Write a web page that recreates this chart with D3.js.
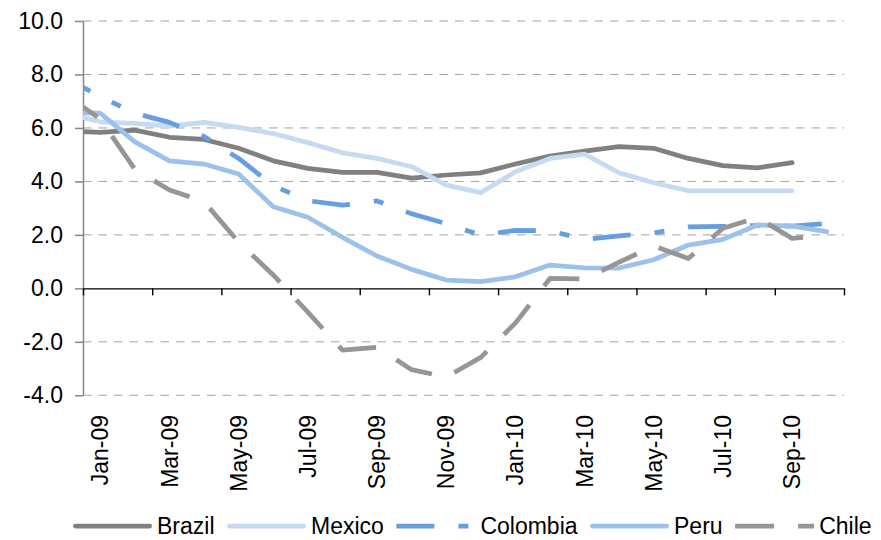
<!DOCTYPE html>
<html>
<head>
<meta charset="utf-8">
<script src="https://cdn.jsdelivr.net/npm/d3@7"></script>
<style>
  html, body { margin: 0; padding: 0; background: #fff; }
  svg { display: block; font-family: "Liberation Sans", Arial, Helvetica, sans-serif; }
</style>
</head>
<body>
<svg id="chart" width="881" height="540"></svg>
<script>
// Monthly readings, Dec-08 through Oct-10 (the Dec-08 reading only feeds the
// segment that enters the window at its left edge).
const months = ["Dec-08", "Jan-09", "Feb-09", "Mar-09", "Apr-09", "May-09", "Jun-09",
  "Jul-09", "Aug-09", "Sep-09", "Oct-09", "Nov-09", "Dec-09", "Jan-10", "Feb-10",
  "Mar-10", "Apr-10", "May-10", "Jun-10", "Jul-10", "Aug-10", "Sep-10", "Oct-10"];

const brazil   = [5.89, 5.83, 5.92, 5.65, 5.57, 5.24, 4.77, 4.49, 4.34, 4.34, 4.12, 4.24,
  4.32, 4.65, 4.95, 5.13, 5.30, 5.24, 4.86, 4.59, 4.51, 4.70, null];
const mexico   = [6.55, 6.23, 6.17, 6.07, 6.21, 6.02, 5.79, 5.45, 5.07, 4.86, 4.55, 3.86,
  3.58, 4.36, 4.86, 5.02, 4.32, 3.95, 3.65, 3.65, 3.65, 3.65, null];
const colombia = [7.87, 7.17, 6.55, 6.21, 5.68, 4.86, 3.84, 3.28, 3.11, 3.27, 2.79, 2.42,
  1.99, 2.17, 2.15, 1.83, 1.96, 2.07, 2.30, 2.32, 2.35, 2.33, 2.43];
const peru     = [6.57, 6.55, 5.48, 4.77, 4.65, 4.28, 3.05, 2.66, 1.91, 1.21, 0.71, 0.31,
  0.25, 0.43, 0.87, 0.77, 0.76, 1.07, 1.62, 1.83, 2.37, 2.33, 2.12];
const chile    = [7.25, 6.33, 4.45, 3.68, 3.24, 1.73, 0.50, -0.89, -2.31, -2.20, -3.04, -3.32,
  -2.58, -1.30, 0.37, 0.35, 0.98, 1.58, 1.12, 2.25, 2.65, 1.87, 2.00];

const yTicks = [-4, -2, 0, 2, 4, 6, 8, 10];
const monthLabels = ["Jan-09", "Mar-09", "May-09", "Jul-09", "Sep-09", "Nov-09",
  "Jan-10", "Mar-10", "May-10", "Jul-10", "Sep-10"];

const seriesNames = ["Brazil", "Mexico", "Colombia", "Peru", "Chile"];
const seriesValues = [brazil, mexico, colombia, peru, chile];
const seriesColors = ["#808080", "#c6daf2", "#659fdf", "#9cc2eb", "#969696"];
// null = solid; otherwise [dash pattern, phase offset]
const seriesDash = [null, null, ["38,24,10,24", 10], null, ["39,24", 0]];

const svg = d3.select("#chart");
const plot = { left: 83, right: 844, top: 21, bottom: 395.3 };
const lineWidth = 4.75;

// Each month occupies one slot; the visible window runs from the start of Jan-09
// to the end of Oct-10.
const x = d3.scaleLinear()
  .domain([0.5, months.length - 0.5])
  .range([plot.left, plot.right]);
const y = d3.scaleLinear()
  .domain([-4, 10])
  .range([plot.bottom, plot.top]);

// Dashed horizontal gridlines
svg.append("g")
  .selectAll("line")
  .data(yTicks.filter(v => v !== 0))
  .join("line")
  .attr("x1", plot.left)
  .attr("x2", plot.right)
  .attr("y1", d => y(d))
  .attr("y2", d => y(d))
  .attr("stroke", "#a3a3a3")
  .attr("stroke-width", 1)
  .attr("stroke-dasharray", "8.5,7");

// Vertical axis
const yAxis = svg.append("g")
  .attr("transform", `translate(${plot.left},0)`)
  .call(d3.axisLeft(y)
    .tickValues(yTicks)
    .tickFormat(d => d.toFixed(1))
    .tickSize(8)
    .tickSizeOuter(0)
    .tickPadding(12))
  .attr("font-family", null)
  .attr("font-size", null);
yAxis.select(".domain").attr("stroke", "#868686").attr("stroke-width", 1.5);
yAxis.selectAll(".tick line").attr("stroke", "#868686").attr("stroke-width", 1.5);
yAxis.selectAll(".tick text").attr("fill", "#000").style("font-size", "23px");

// Series lines, clipped at the left edge of the plot
svg.append("defs").append("clipPath").attr("id", "plotClip")
  .append("rect")
  .attr("x", plot.left)
  .attr("y", 0)
  .attr("width", 881 - plot.left)
  .attr("height", 540);

const line = d3.line()
  .defined(d => d.v !== null)
  .x(d => x(d.i))
  .y(d => y(d.v));

const linesG = svg.append("g").attr("clip-path", "url(#plotClip)");
seriesNames.forEach((name, k) => {
  const pts = seriesValues[k].map((v, i) => ({ i, v }));
  const dash = seriesDash[k];
  linesG.append("path")
    .datum(pts)
    .attr("d", line)
    .attr("fill", "none")
    .attr("stroke", seriesColors[k])
    .attr("stroke-width", lineWidth)
    .attr("stroke-linejoin", "round")
    .attr("stroke-linecap", dash ? "butt" : "round")
    .attr("stroke-dasharray", dash ? dash[0] : null)
    .attr("stroke-dashoffset", dash ? dash[1] : null);
});

// Horizontal axis at zero, tick marks on slot boundaries every two months
const xAxis = svg.append("g")
  .attr("transform", `translate(0,${y(0)})`)
  .call(d3.axisBottom(x)
    .tickValues(d3.range(0.5, months.length, 2))
    .tickFormat("")
    .tickSize(7)
    .tickSizeOuter(0));
xAxis.select(".domain").attr("stroke", "#000").attr("stroke-width", 1.4);
xAxis.selectAll(".tick line").attr("stroke", "#000").attr("stroke-width", 1.4);

// Rotated month labels centred in their slots
svg.append("g")
  .selectAll("text")
  .data(monthLabels)
  .join("text")
  .attr("transform", d => `translate(${x(months.indexOf(d))},415) rotate(-90)`)
  .attr("text-anchor", "end")
  .attr("dy", "0.35em")
  .attr("fill", "#000")
  .style("font-size", "23px")
  .text(d => d);

// Legend along the bottom
const legend = svg.append("g");
const legendY = 526;
const sampleLen = 79;
let cursor = 73;
seriesNames.forEach((name, k) => {
  const dash = seriesDash[k];
  const inset = dash ? 0 : lineWidth / 2;
  legend.append("line")
    .attr("x1", cursor + inset)
    .attr("x2", cursor + sampleLen - inset)
    .attr("y1", legendY)
    .attr("y2", legendY)
    .attr("stroke", seriesColors[k])
    .attr("stroke-width", lineWidth)
    .attr("stroke-linecap", dash ? "butt" : "round")
    .attr("stroke-dasharray", dash ? dash[0] : null);
  const t = legend.append("text")
    .attr("x", cursor + sampleLen + 5)
    .attr("y", legendY)
    .attr("dy", "0.35em")
    .attr("fill", "#000")
    .style("font-size", "23px")
    .text(name);
  cursor += sampleLen + 5 + t.node().getComputedTextLength() + 12.5;
});
</script>
</body>
</html>
